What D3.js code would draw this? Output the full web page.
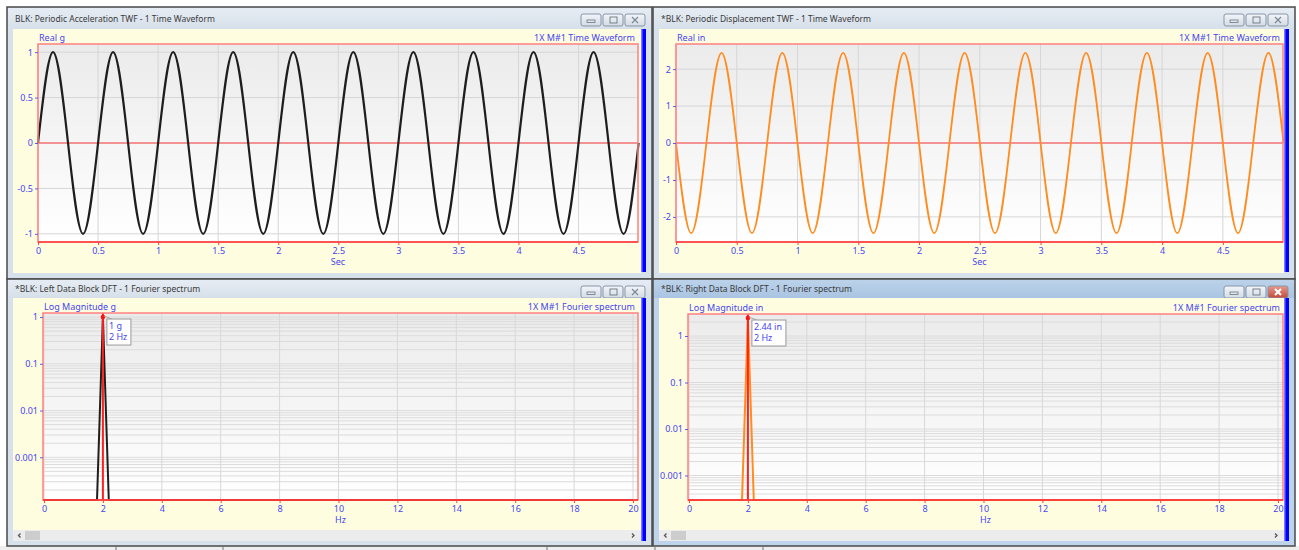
<!DOCTYPE html>
<html>
<head>
<meta charset="utf-8">
<script src="https://cdn.jsdelivr.net/npm/d3@7"></script>
<style>
body { margin: 0; background: #fff; }
svg { display: block; font-family: "Noto Sans", "DejaVu Sans", sans-serif; }
</style>
</head>
<body>
<svg id="chart"></svg>
<script>
// waveform points: zero crossings and peaks (s)
var waveTime = [0, 0.125, 0.25, 0.375, 0.5, 0.625, 0.75, 0.875, 1, 1.125, 1.25, 1.375,
        1.5, 1.625, 1.75, 1.875, 2, 2.125, 2.25, 2.375, 2.5, 2.625, 2.75, 2.875,
        3, 3.125, 3.25, 3.375, 3.5, 3.625, 3.75, 3.875, 4, 4.125, 4.25, 4.375,
        4.5, 4.625, 4.75, 4.875, 5];
var accelG = [0, 1, 0, -1, 0, 1, 0, -1, 0, 1, 0, -1, 0, 1, 0, -1, 0, 1, 0, -1,
        0, 1, 0, -1, 0, 1, 0, -1, 0, 1, 0, -1, 0, 1, 0, -1, 0, 1, 0, -1, 0];
var dispIn = [0, -2.44, 0, 2.44, 0, -2.44, 0, 2.44, 0, -2.44, 0, 2.44, 0, -2.44, 0, 2.44,
        0, -2.44, 0, 2.44, 0, -2.44, 0, 2.44, 0, -2.44, 0, 2.44, 0, -2.44, 0, 2.44,
        0, -2.44, 0, 2.44, 0, -2.44, 0, 2.44, 0];

// spectrum bins (Hz) around the 2 Hz line, the rest sits on the floor
var specHz = [0, 1.8, 2, 2.2, 20];
var accelMag = [1e-6, 1e-6, 1, 1e-6, 1e-6];
var dispMag = [1e-6, 1e-6, 2.44, 1e-6, 1e-6];

var secTicks = [0, 0.5, 1, 1.5, 2, 2.5, 3, 3.5, 4, 4.5];
var hzTicks = [0, 2, 4, 6, 8, 10, 12, 14, 16, 18, 20];
var accelTicks = [-1, -0.5, 0, 0.5, 1];
var dispTicks = [-2, -1, 0, 1, 2];
var logTicks = [0.001, 0.01, 0.1, 1];

var blue = "#4646f0";

var svg = d3.select("#chart")
        .attr("width", 1299)
        .attr("height", 550);

var defs = svg.append("defs");
function grad(id, c1, c2) {
        var lg = defs.append("linearGradient").attr("id", id)
                .attr("x1", 0).attr("y1", 0).attr("x2", 0).attr("y2", 1);
        lg.append("stop").attr("offset", "0%").attr("stop-color", c1);
        lg.append("stop").attr("offset", "100%").attr("stop-color", c2);
}
grad("plotbg", "#ebebeb", "#ffffff");
grad("titleOff", "#e6ecf3", "#d6e0ea");
grad("titleOn", "#bcd2ea", "#a9c4e2");
grad("btn", "#f3f6f9", "#d3dbe4");
grad("btnClose", "#e59a8c", "#c4493a");

// bottom strip (task bar)
svg.append("rect").attr("x", 0).attr("y", 546).attr("width", 1299).attr("height", 4).attr("fill", "#eeeeee");
[116, 223, 547, 655, 763].forEach(function (sx) {
        svg.append("line").attr("x1", sx).attr("x2", sx).attr("y1", 547).attr("y2", 550)
                .attr("stroke", "#777");
});

// ---- window frames ----
function windowFrame(w) {
        var g = svg.append("g");
        g.append("rect")
                .attr("x", w.x).attr("y", w.y).attr("width", w.w).attr("height", w.h)
                .attr("fill", w.active ? "#bdd4ec" : "#d7e1ec")
                .attr("stroke", "#4a4a4a").attr("stroke-width", 1.5);
        g.append("rect")
                .attr("x", w.x + 1).attr("y", w.y + 1).attr("width", w.w - 2).attr("height", w.titleH)
                .attr("fill", w.active ? "url(#titleOn)" : "url(#titleOff)");
        g.append("text")
                .attr("x", w.x + 8).attr("y", w.y + w.titleH / 2 + 4)
                .attr("font-size", 8.5).attr("fill", "#3a3a3a")
                .text(w.title);

        // min / max / close buttons
        var bx = w.x + w.w - 71, by = w.y + 7;
        [0, 1, 2].forEach(function (i) {
                var x0 = bx + i * 22;
                g.append("rect").attr("x", x0).attr("y", by).attr("width", 20).attr("height", 12)
                        .attr("rx", 2)
                        .attr("fill", (i === 2 && w.active) ? "url(#btnClose)" : "url(#btn)")
                        .attr("stroke", "#8796a8");
                if (i === 0) {
                        g.append("rect").attr("x", x0 + 6).attr("y", by + 6).attr("width", 8).attr("height", 2.5)
                                .attr("fill", "none").attr("stroke", "#6c7683").attr("stroke-width", 0.8);
                } else if (i === 1) {
                        g.append("rect").attr("x", x0 + 7).attr("y", by + 3).attr("width", 7).attr("height", 6)
                                .attr("fill", "none").attr("stroke", "#6c7683").attr("stroke-width", 0.9);
                } else {
                        g.append("path")
                                .attr("d", "M" + (x0 + 7) + "," + (by + 3) + "l6,6M" + (x0 + 13) + "," + (by + 3) + "l-6,6")
                                .attr("stroke", w.active ? "#fff" : "#7d8896").attr("stroke-width", w.active ? 2 : 1.2);
                }
        });

        // client area
        var cy = w.y + w.titleH + 1;
        g.append("rect").attr("x", w.x + 6).attr("y", cy)
                .attr("width", w.w - 17).attr("height", w.clientH)
                .attr("fill", "#fefde0");
        if (w.scroll) {
                var sy = cy + w.clientH;
                g.append("rect").attr("x", w.x + 6).attr("y", sy).attr("width", w.w - 17).attr("height", 11)
                        .attr("fill", "#ececec");
                g.append("rect").attr("x", w.x + 18).attr("y", sy + 1).attr("width", 15).attr("height", 9)
                        .attr("fill", "#cdcdcd");
                g.append("path")
                        .attr("d", "M" + (w.x + 13.5) + "," + (sy + 3.5) + "l-2,2l2,2")
                        .attr("fill", "none").attr("stroke", "#555").attr("stroke-width", 1.3);
                g.append("path")
                        .attr("d", "M" + (w.x + w.w - 20) + "," + (sy + 3.5) + "l2,2l-2,2")
                        .attr("fill", "none").attr("stroke", "#555").attr("stroke-width", 1.3);
        }
        // blue side bar
        g.append("rect").attr("x", w.x + w.w - 11).attr("y", cy)
                .attr("width", 5).attr("height", w.clientH + (w.scroll ? 11 : -1))
                .attr("fill", "#0000ff");
        g.append("rect").attr("x", w.x + w.w - 11).attr("y", cy)
                .attr("width", 1.5).attr("height", w.clientH + (w.scroll ? 11 : -1))
                .attr("fill", "#7a7aff");
}

windowFrame({ x: 7, y: 7, w: 645, h: 272, titleH: 21, clientH: 244,
        title: "BLK: Periodic Acceleration TWF - 1 Time Waveform" });
windowFrame({ x: 653, y: 7, w: 642, h: 272, titleH: 21, clientH: 244,
        title: "*BLK: Periodic Displacement TWF - 1 Time Waveform" });
windowFrame({ x: 7, y: 279, w: 645, h: 267, titleH: 18, clientH: 232, scroll: true,
        title: "*BLK: Left Data Block DFT - 1 Fourier spectrum" });
windowFrame({ x: 653, y: 279, w: 642, h: 267, titleH: 18, clientH: 232, scroll: true, active: true,
        title: "*BLK: Right Data Block DFT - 1 Fourier spectrum" });

// ---- shared axis styling ----
function styleAxis(sel, tickColor) {
        sel.select(".domain").remove();
        sel.selectAll(".tick line").attr("stroke", tickColor);
        sel.selectAll(".tick text").attr("fill", blue).attr("font-size", 9)
                .attr("font-family", "\"Noto Sans\", \"DejaVu Sans\", sans-serif");
}

function plotLabels(g, p, leftLabel, rightLabel, xLabel) {
        g.append("text").attr("x", p.left + 1).attr("y", p.top - 3)
                .attr("font-size", 9).attr("fill", blue).text(leftLabel);
        g.append("text").attr("x", p.right - 3).attr("y", p.top - 3)
                .attr("text-anchor", "end").attr("font-size", 9).attr("fill", blue).text(rightLabel);
        g.append("text").attr("x", (p.left + p.right) / 2).attr("y", p.bottom + 23)
                .attr("text-anchor", "middle").attr("font-size", 9).attr("fill", blue).text(xLabel);
}

// ---- time waveform panels ----
function wavePanel(p) {
        var x = d3.scaleLinear().domain([0, 4.995]).range([p.left, p.right]);
        var y = d3.scaleLinear().domain(p.yDomain).range([p.bottom, p.top]);
        var g = svg.append("g");

        g.append("rect").attr("x", p.left).attr("y", p.top)
                .attr("width", p.right - p.left).attr("height", p.bottom - p.top)
                .attr("fill", "url(#plotbg)");

        g.selectAll(".vgrid").data(secTicks).join("line")
                .attr("x1", d => x(d)).attr("x2", d => x(d))
                .attr("y1", p.top).attr("y2", p.bottom)
                .attr("stroke", "#d6d6d6");
        g.selectAll(".hgrid").data(p.yTicks).join("line")
                .attr("x1", p.left).attr("x2", p.right)
                .attr("y1", d => y(d)).attr("y2", d => y(d))
                .attr("stroke", "#d6d6d6");
        // zero line
        g.append("line").attr("x1", p.left).attr("x2", p.right)
                .attr("y1", y(0)).attr("y2", y(0))
                .attr("stroke", "#ff4040").attr("stroke-width", 1);

        var line = d3.line()
                .x((d, i) => x(waveTime[i]))
                .y(d => y(d))
                .curve(d3.curveNatural);

        g.append("path")
                .datum(p.values)
                .attr("fill", "none")
                .attr("stroke", p.color)
                .attr("stroke-width", p.width)
                .attr("stroke-linejoin", "round")
                .attr("d", line);

        g.append("rect").attr("x", p.left).attr("y", p.top)
                .attr("width", p.right - p.left).attr("height", p.bottom - p.top)
                .attr("fill", "none").attr("stroke", "#ff8080").attr("stroke-width", 1.5);
        g.append("line").attr("x1", p.left).attr("x2", p.right)
                .attr("y1", p.bottom).attr("y2", p.bottom)
                .attr("stroke", "#ff3a3a").attr("stroke-width", 1.5);

        g.append("g")
                .attr("transform", "translate(0," + p.bottom + ")")
                .call(d3.axisBottom(x).tickValues(secTicks).tickSize(3).tickPadding(3).tickFormat(d => String(d)))
                .call(s => styleAxis(s, "#ff4040"));
        g.append("g")
                .attr("transform", "translate(" + p.left + ",0)")
                .call(d3.axisLeft(y).tickValues(p.yTicks).tickSize(3).tickPadding(2).tickFormat(d => String(d)))
                .call(s => styleAxis(s, "#5a5af0"));

        plotLabels(g, p, p.yLabel, "1X M#1 Time Waveform", "Sec");
}

wavePanel({ left: 38, right: 638, top: 44, bottom: 242, yDomain: [-1.09, 1.09],
        yTicks: accelTicks, values: accelG, color: "#1e1e1e", width: 2.2, yLabel: "Real g" });
wavePanel({ left: 676, right: 1283, top: 44, bottom: 242, yDomain: [-2.68, 2.68],
        yTicks: dispTicks, values: dispIn, color: "#ff8c1f", width: 1.8, yLabel: "Real in" });

// ---- spectrum panels ----
function specPanel(p) {
        var x = d3.scaleLinear().domain([0, 20.17]).range([p.left + 1, p.right]);
        var peak = d3.max(p.values);
        var y = d3.scaleLog().domain([peak * 1.22e-4, peak * 1.22]).range([p.bottom, p.top]).clamp(true);
        var g = svg.append("g");

        g.append("rect").attr("x", p.left).attr("y", p.top)
                .attr("width", p.right - p.left).attr("height", p.bottom - p.top)
                .attr("fill", "url(#plotbg)");

        var minor = y.ticks().filter(d => d >= y.domain()[0] && d <= y.domain()[1]);
        g.selectAll(".hgrid").data(minor).join("line")
                .attr("x1", p.left).attr("x2", p.right)
                .attr("y1", d => y(d)).attr("y2", d => y(d))
                .attr("stroke", "#dcdcdc");
        g.selectAll(".vgrid").data(hzTicks).join("line")
                .attr("x1", d => x(d)).attr("x2", d => x(d))
                .attr("y1", p.top).attr("y2", p.bottom)
                .attr("stroke", "#d8d8d8");

        var line = d3.line()
                .x((d, i) => x(specHz[i]))
                .y(d => y(d));

        g.append("path")
                .datum(p.values)
                .attr("fill", "none")
                .attr("stroke", p.color)
                .attr("stroke-width", 2)
                .attr("d", line);

        // cursor on the peak
        var pk = specHz[d3.maxIndex(p.values)];
        g.append("line").attr("x1", x(pk)).attr("x2", x(pk))
                .attr("y1", p.top).attr("y2", p.bottom)
                .attr("stroke", "#ff2020").attr("stroke-width", 2);

        g.append("rect").attr("x", p.left).attr("y", p.top)
                .attr("width", p.right - p.left).attr("height", p.bottom - p.top)
                .attr("fill", "none").attr("stroke", "#ff8080").attr("stroke-width", 1.5);
        g.append("line").attr("x1", p.left).attr("x2", p.right)
                .attr("y1", p.bottom).attr("y2", p.bottom)
                .attr("stroke", "#ff2a2a").attr("stroke-width", 1.5);

        g.append("circle").attr("cx", x(pk)).attr("cy", y(peak)).attr("r", 2.3).attr("fill", "#ff1010");

        // value tag, sized to its text
        var tx = x(pk) + 4, ty = y(peak) + 2;
        var lines = [peak + " " + p.unit, pk + " Hz"];
        g.append("path")
                .attr("d", "M" + (x(pk) + 1) + "," + (y(peak) - 1) + "L" + (tx + 5) + "," + ty)
                .attr("stroke", "#999").attr("stroke-width", 0.8);
        var box = g.append("rect").attr("x", tx).attr("y", ty).attr("height", 26)
                .attr("fill", "#fff").attr("stroke", "#9a9a9a");
        var txt = g.selectAll(".tag").data(lines).join("text")
                .attr("x", tx + 2).attr("y", (d, i) => ty + 10 + i * 11)
                .attr("font-size", 9).attr("fill", blue).text(d => d);
        var tw = d3.max(txt.nodes(), n => n.getComputedTextLength());
        box.attr("width", Math.ceil(tw) + 5);

        g.append("g")
                .attr("transform", "translate(0," + p.bottom + ")")
                .call(d3.axisBottom(x).tickValues(hzTicks).tickSize(3).tickPadding(3).tickFormat(d => String(d)))
                .call(s => styleAxis(s, "#ff4040"));
        g.append("g")
                .attr("transform", "translate(" + p.left + ",0)")
                .call(d3.axisLeft(y).tickValues(logTicks).tickSize(3).tickPadding(2).tickFormat(d => String(d)))
                .call(s => styleAxis(s, "#5a5af0"));

        plotLabels(g, p, "Log Magnitude " + p.unit, "1X M#1 Fourier spectrum", "Hz");
}

specPanel({ left: 43, right: 638, top: 313, bottom: 500, values: accelMag, color: "#1e1e1e", unit: "g" });
specPanel({ left: 688, right: 1283, top: 314, bottom: 500, values: dispMag, color: "#ff8c1f", unit: "in" });
</script>
</body>
</html>
